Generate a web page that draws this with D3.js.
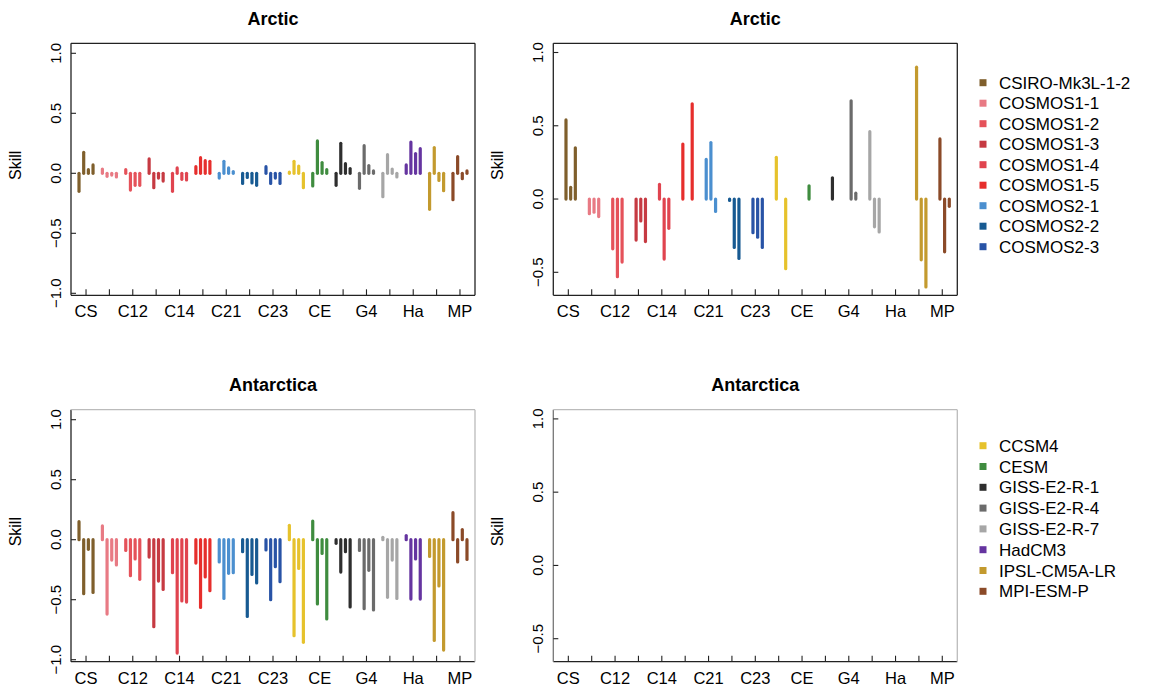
<!DOCTYPE html>
<html><head><meta charset="utf-8">
<script src="https://cdn.jsdelivr.net/npm/d3@7"></script>
<style>
body{margin:0;background:#fff}
svg{display:block}
text{font-family:"Liberation Sans",Arial,Helvetica,sans-serif;fill:#000}
</style>
</head><body>
<svg id="chart" width="1149" height="687"></svg>
<script>
// ---------- data ----------
const groupCodes = ["CS","C11","C12","C13","C14","C15","C21","C22","C23","CC","CE","G1","G4","G7","Ha","IP","MP"];
const tickLabels = ["CS","","C12","","C14","","C21","","C23","","CE","","G4","","Ha","","MP"];
const models = ["CSIRO-Mk3L-1-2","COSMOS1-1","COSMOS1-2","COSMOS1-3","COSMOS1-4","COSMOS1-5",
  "COSMOS2-1","COSMOS2-2","COSMOS2-3","CCSM4","CESM","GISS-E2-R-1","GISS-E2-R-4","GISS-E2-R-7",
  "HadCM3","IPSL-CM5A-LR","MPI-ESM-P"];
const modelColors = ["#7f5f2c","#e87a84","#e5525a","#c63a42","#e0444f","#e62e2c",
  "#4b8fcf","#175a92","#2853a6","#e6c22c","#3f8c3f","#2e2e2e","#6b6b6b","#a6a6a6",
  "#6534a0","#c39a2e","#8b4a28"];
const legendTop = models.slice(0, 9);
const legendBottom = models.slice(9);

// four values per model (top-left panel)
const arcticSkillLeft = [
  [-0.15, 0.175, 0.03, 0.07],
  [0.035, -0.025, -0.015, -0.03],
  [0.03, -0.14, -0.10, -0.10],
  [0.12, -0.12, -0.04, -0.065],
  [-0.15, 0.045, -0.05, -0.055],
  [0.055, 0.13, 0.105, 0.10],
  [-0.04, 0.10, 0.045, 0.015],
  [-0.085, -0.035, -0.08, -0.10],
  [0.055, -0.085, -0.04, -0.085],
  [0.01, 0.10, 0.06, -0.12],
  [-0.105, 0.27, 0.09, 0.03],
  [-0.10, 0.25, 0.08, 0.04],
  [-0.125, 0.23, 0.065, 0.02],
  [-0.195, 0.155, 0.035, -0.03],
  [0.07, 0.26, 0.165, 0.205],
  [-0.30, 0.215, -0.06, -0.145],
  [-0.22, 0.14, -0.045, 0.02]
];
// top-right panel (first slot missing)
const arcticSkillRight = [
  [null, 0.54, 0.08, 0.35],
  [null, -0.10, -0.09, -0.12],
  [null, -0.34, -0.53, -0.43],
  [null, -0.28, -0.15, -0.29],
  [null, 0.10, -0.41, -0.20],
  [null, 0.375, null, 0.65],
  [null, 0.27, 0.385, -0.085],
  [null, -0.01, -0.33, -0.405],
  [null, -0.23, -0.26, -0.33],
  [null, 0.285, null, -0.475],
  [null, null, null, 0.09],
  [null, null, null, 0.145],
  [null, null, 0.67, 0.04],
  [null, 0.46, -0.19, -0.225],
  [null, null, null, null],
  [null, 0.90, -0.415, -0.60],
  [null, 0.41, -0.36, -0.05]
];
// bottom-left panel
const antarcticSkillLeft = [
  [0.15, -0.45, -0.08, -0.44],
  [0.115, -0.62, -0.17, -0.21],
  [-0.09, -0.30, -0.16, -0.33],
  [-0.145, -0.725, -0.345, -0.415],
  [-0.275, -0.945, -0.51, -0.52],
  [-0.195, -0.565, -0.31, -0.425],
  [-0.185, -0.49, -0.28, -0.275],
  [-0.10, -0.64, -0.29, -0.36],
  [-0.085, -0.50, -0.225, -0.35],
  [0.12, -0.80, -0.24, -0.855],
  [0.155, -0.535, -0.115, -0.66],
  [-0.03, -0.27, -0.10, -0.56],
  [-0.09, -0.575, -0.255, -0.585],
  [0.02, -0.48, -0.17, -0.49],
  [0.035, -0.495, -0.16, -0.495],
  [-0.14, -0.84, -0.385, -0.92],
  [0.225, -0.185, 0.085, -0.165]
];
// bottom-right panel: empty
const antarcticSkillRight = [];

const leftTicks = [-1, -0.5, 0, 0.5, 1];
const rightTicks = [-0.5, 0, 0.5, 1];

// ---------- drawing ----------
const svg = d3.select("#chart");
const W = 404, H = 252;
const fmt = d3.format(".1f");

function panel(x0, y0, cfg) {
  const g = svg.append("g").attr("transform", `translate(${x0},${y0})`);
  const x = d3.scaleLinear().domain([0.357, 17.643]).range([0, W]);
  const y = d3.scaleLinear().domain(cfg.domain).range(cfg.range);
  const inner = d3.scaleBand().domain([0, 1, 2, 3]).range([-0.4, 0.4]);

  const recs = [];
  cfg.data.forEach((vals, gi) => vals.forEach((v, k) => {
    if (v !== null && v !== undefined) recs.push({gi, k, v});
  }));
  g.selectAll("line.bar").data(recs).join("line")
    .attr("class", "bar")
    .attr("x1", d => x(gi1(d) + inner(d.k) + inner.bandwidth() / 2))
    .attr("x2", d => x(gi1(d) + inner(d.k) + inner.bandwidth() / 2))
    .attr("y1", y(0)).attr("y2", d => y(d.v))
    .attr("stroke", d => modelColors[d.gi])
    .attr("stroke-width", 3.2)
    .attr("stroke-linecap", "round");
  function gi1(d) { return d.gi + 1; }

  // frame
  const dark = "#222";
  g.append("line").attr("x1", 0).attr("x2", W).attr("y1", H).attr("y2", H).attr("stroke", dark).attr("stroke-width", 1.3);
  g.append("line").attr("x1", 0).attr("x2", 0).attr("y1", 0).attr("y2", H).attr("stroke", cfg.leftCol).attr("stroke-width", 1.3);
  g.append("line").attr("x1", 0).attr("x2", W).attr("y1", 0).attr("y2", 0).attr("stroke", cfg.topCol).attr("stroke-width", 1.3);
  g.append("line").attr("x1", W).attr("x2", W).attr("y1", 0).attr("y2", H).attr("stroke", cfg.topCol).attr("stroke-width", 1.3);

  // x ticks (inward)
  g.selectAll("line.xt").data(groupCodes).join("line").attr("class", "xt")
    .attr("x1", (d, i) => x(i + 1)).attr("x2", (d, i) => x(i + 1))
    .attr("y1", H).attr("y2", H - 6).attr("stroke", dark).attr("stroke-width", 1.1);
  g.selectAll("text.xl").data(tickLabels).join("text").attr("class", "xl")
    .attr("x", (d, i) => x(i + 1)).attr("y", H + 22)
    .attr("text-anchor", "middle").attr("font-size", 16.5).text(d => d);

  // y ticks (inward)
  g.selectAll("line.yt").data(cfg.ticks).join("line").attr("class", "yt")
    .attr("x1", 0).attr("x2", 5).attr("y1", d => y(d)).attr("y2", d => y(d))
    .attr("stroke", dark).attr("stroke-width", 1.1);
  g.selectAll("text.yl").data(cfg.ticks).join("text").attr("class", "yl")
    .attr("transform", d => `translate(-10,${y(d)}) rotate(-90)`)
    .attr("text-anchor", "middle").attr("font-size", 15).text(d => fmt(d));

  g.append("text").attr("transform", `translate(-50,${H / 2 - 4}) rotate(-90)`)
    .attr("text-anchor", "middle").attr("font-size", 16).text("Skill");
  g.append("text").attr("x", W / 2).attr("y", -18.5).attr("text-anchor", "middle")
    .attr("font-size", 18).attr("font-weight", "bold").text(cfg.title);
}

const leftDom = {domain: [-1, 1], range: [250, 10], ticks: leftTicks};
const rightDom = {domain: [-0.5, 1], range: [229, 9.2], ticks: rightTicks};

panel(71, 43.3, Object.assign({title: "Arctic", data: arcticSkillLeft, leftCol: "#222", topCol: "#222"}, leftDom));
panel(553.3, 43.3, Object.assign({title: "Arctic", data: arcticSkillRight, leftCol: "#222", topCol: "#222"}, rightDom));
panel(71, 409.7, Object.assign({title: "Antarctica", data: antarcticSkillLeft, leftCol: "#222", topCol: "#bbb"}, leftDom));
panel(553.3, 409.7, Object.assign({title: "Antarctica", data: antarcticSkillRight, leftCol: "#777", topCol: "#bbb"}, rightDom));

// legends
function legend(items, offset, y0, step) {
  const g = svg.append("g").attr("transform", `translate(983,${y0})`);
  const rows = g.selectAll("g").data(items).join("g")
    .attr("transform", (d, i) => `translate(0,${i * step})`);
  rows.append("rect").attr("x", -3.5).attr("y", -3.5).attr("width", 7).attr("height", 7)
    .attr("fill", (d, i) => modelColors[offset + i]);
  rows.append("text").attr("x", 16).attr("y", 6).attr("font-size", 17).text(d => d);
}
legend(legendTop, 0, 82.7, 20.5);
legend(legendBottom, 9, 445.7, 20.8);
</script>
</body></html>
